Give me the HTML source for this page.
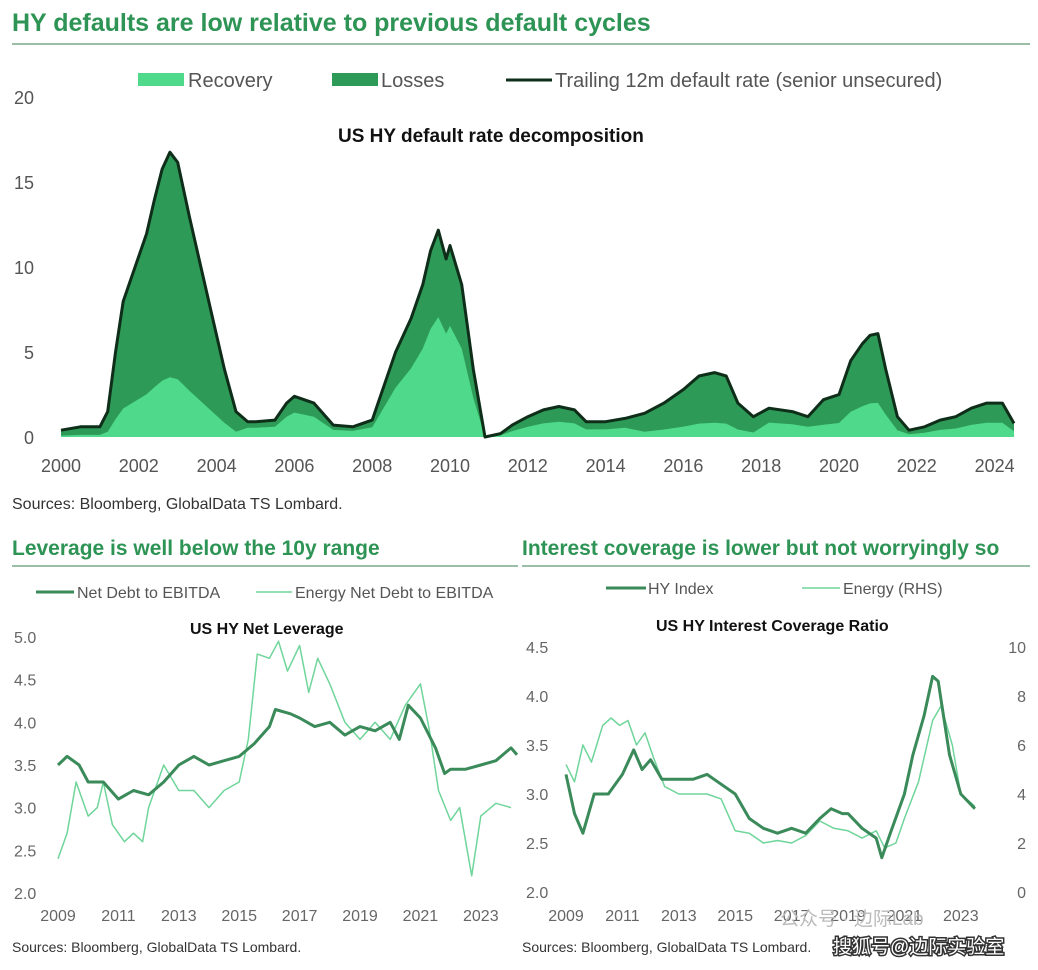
<!DOCTYPE html>
<html><head><meta charset="utf-8"><style>
body{margin:0;background:#fff;width:1038px;height:970px;overflow:hidden;font-family:"Liberation Sans","Noto Sans CJK SC",sans-serif}
svg{position:absolute;left:0;top:0}
</style></head><body>
<svg id="s" width="1038" height="970" xmlns="http://www.w3.org/2000/svg" font-family="Liberation Sans, Noto Sans CJK SC, sans-serif">
<text x="12" y="31" font-size="25" font-weight="bold" fill="#2e9455">HY defaults are low relative to previous default cycles</text>
<line x1="12" y1="44" x2="1030" y2="44" stroke="#7aa88a" stroke-width="1.5"/>
<rect x="138" y="73" width="46" height="13" fill="#4fd98a"/>
<text x="188" y="87" font-size="20" fill="#555">Recovery</text>
<rect x="332" y="73" width="46" height="13" fill="#2e9a57"/>
<text x="381" y="87" font-size="20" fill="#555">Losses</text>
<line x1="506" y1="80" x2="552" y2="80" stroke="#0f2e1a" stroke-width="3"/>
<text x="555" y="87" font-size="20" fill="#555">Trailing 12m default rate (senior unsecured)</text>
<text x="338" y="142" font-size="19" font-weight="bold" fill="#111">US HY default rate decomposition</text>
<g font-size="18" fill="#555">
<text x="14" y="104">20</text><text x="14" y="189">15</text><text x="14" y="274">10</text><text x="24" y="359">5</text><text x="24" y="444">0</text>
</g>
<g id="main"></g>
<g font-size="18" fill="#555" text-anchor="middle" id="mx"></g>
<text x="12" y="509" font-size="16" fill="#333">Sources: Bloomberg, GlobalData TS Lombard.</text>

<text x="12" y="555" font-size="21" font-weight="bold" fill="#2e9455">Leverage is well below the 10y range</text>
<line x1="12" y1="566" x2="518" y2="566" stroke="#7aa88a" stroke-width="1.5"/>
<text x="522" y="555" font-size="21" font-weight="bold" fill="#2e9455">Interest coverage is lower but not worryingly so</text>
<line x1="522" y1="566" x2="1030" y2="566" stroke="#7aa88a" stroke-width="1.5"/>

<line x1="36" y1="592" x2="74" y2="592" stroke="#3a8a5a" stroke-width="3"/>
<text x="77" y="598" font-size="16" fill="#555">Net Debt to EBITDA</text>
<line x1="256" y1="592" x2="292" y2="592" stroke="#6fd59a" stroke-width="1.5"/>
<text x="295" y="598" font-size="16" fill="#555">Energy Net Debt to EBITDA</text>
<text x="190" y="634" font-size="16" font-weight="bold" fill="#111">US HY Net Leverage</text>

<line x1="606" y1="588" x2="646" y2="588" stroke="#3a8a5a" stroke-width="3"/>
<text x="648" y="594" font-size="16" fill="#555">HY Index</text>
<line x1="802" y1="588" x2="840" y2="588" stroke="#6fd59a" stroke-width="1.5"/>
<text x="843" y="594" font-size="16" fill="#555">Energy (RHS)</text>
<text x="656" y="631" font-size="16" font-weight="bold" fill="#111">US HY Interest Coverage Ratio</text>

<g font-size="16" fill="#666" id="lax"></g>
<g id="lc"></g><g id="rc"></g>
<text x="12" y="952" font-size="14" fill="#333">Sources: Bloomberg, GlobalData TS Lombard.</text>
<text x="522" y="952" font-size="14" fill="#333">Sources: Bloomberg, GlobalData TS Lombard.</text>
<text x="780" y="925" font-size="19" fill="#bbb">公众号 · 边际Lab</text>
<text x="833" y="953" font-size="19" fill="#fff" stroke="#333" stroke-width="3" paint-order="stroke">搜狐号@边际实验室</text>
</svg>
<script>
(function(){
var NS="http://www.w3.org/2000/svg";
function el(p,t,a,txt){var e=document.createElementNS(NS,t);for(var k in a)e.setAttribute(k,a[k]);if(txt!=null)e.textContent=txt;document.getElementById(p).appendChild(e);}
var T=[[2000,.4],[2000.5,.6],[2001,.6],[2001.2,1.5],[2001.4,5],[2001.6,8],[2001.9,10],[2002.2,12],[2002.4,14],[2002.6,15.8],[2002.8,16.8],[2003,16.2],[2003.3,13],[2003.6,10],[2003.9,7],[2004.2,4],[2004.5,1.5],[2004.8,.9],[2005,.9],[2005.5,1],[2005.8,2],[2006,2.4],[2006.5,2],[2007,.7],[2007.5,.6],[2008,1],[2008.3,3],[2008.6,5],[2009,7],[2009.3,9],[2009.5,11],[2009.7,12.2],[2009.9,10.5],[2010,11.3],[2010.3,9],[2010.6,4],[2010.9,0],[2011.3,.2],[2011.6,.7],[2012,1.2],[2012.4,1.6],[2012.8,1.8],[2013.2,1.6],[2013.5,.9],[2014,.9],[2014.5,1.1],[2015,1.4],[2015.5,2],[2016,2.8],[2016.4,3.6],[2016.8,3.8],[2017.1,3.6],[2017.4,2],[2017.8,1.2],[2018.2,1.7],[2018.8,1.5],[2019.2,1.2],[2019.6,2.2],[2020,2.5],[2020.3,4.5],[2020.6,5.5],[2020.8,6],[2021,6.1],[2021.2,4],[2021.5,1.2],[2021.8,.4],[2022.2,.6],[2022.6,1],[2023,1.2],[2023.4,1.7],[2023.8,2],[2024.2,2],[2024.5,.8]];
function fr(y){if(y<2004.6)return .21;if(y<2007.8)return .6;if(y<2010.9)return .58;if(y<2014.8)return .5;if(y<2018)return .22;if(y<2019.5)return .5;if(y<2021.8)return .33;return .42;}
function X(y){return 61+(y-2000)*38.9}function Y(v){return 437-v*16.95}
var tp="",rec="";T.forEach(function(p,i){tp+=(i?"L":"M")+X(p[0]).toFixed(1)+","+Y(p[1]).toFixed(1);rec+=(i?"L":"M")+X(p[0]).toFixed(1)+","+Y(p[1]*fr(p[0])).toFixed(1);});
var x0=X(2000),x1=X(2024.5);
el("main","path",{d:tp+"L"+x1+",437L"+x0+",437Z",fill:"#2e9a57"});
el("main","path",{d:rec+"L"+x1+",437L"+x0+",437Z",fill:"#4fd98a"});
el("main","path",{d:tp,fill:"none",stroke:"#0f2e1a","stroke-width":3,"stroke-linejoin":"round"});
for(var y=2000;y<=2024;y+=2)el("mx","text",{x:X(y),y:472},y);
function path(p,pts,fx,fy,col,w){var d="";pts.forEach(function(q,i){d+=(i?"L":"M")+fx(q[0]).toFixed(1)+","+fy(q[1]).toFixed(1)});el(p,"path",{d:d,fill:"none",stroke:col,"stroke-width":w,"stroke-linejoin":"round"});}
var LX=function(y){return 58+(y-2009)*30.2},LY=function(v){return 637+(5-v)*85.3};
var ND=[[2009,3.5],[2009.3,3.6],[2009.7,3.5],[2010,3.3],[2010.5,3.3],[2011,3.1],[2011.5,3.2],[2012,3.15],[2012.5,3.3],[2013,3.5],[2013.5,3.6],[2014,3.5],[2014.5,3.55],[2015,3.6],[2015.5,3.75],[2016,3.95],[2016.2,4.15],[2016.7,4.1],[2017,4.05],[2017.5,3.95],[2018,4.0],[2018.5,3.85],[2019,3.95],[2019.5,3.9],[2020,4.0],[2020.3,3.8],[2020.6,4.2],[2021,4.05],[2021.5,3.7],[2021.8,3.4],[2022,3.45],[2022.5,3.45],[2023,3.5],[2023.5,3.55],[2024,3.7],[2024.2,3.62]];
var EN=[[2009,2.4],[2009.3,2.7],[2009.6,3.3],[2010,2.9],[2010.3,3.0],[2010.5,3.3],[2010.8,2.8],[2011.2,2.6],[2011.5,2.7],[2011.8,2.6],[2012,3.0],[2012.5,3.5],[2013,3.2],[2013.5,3.2],[2014,3.0],[2014.5,3.2],[2015,3.3],[2015.3,3.8],[2015.6,4.8],[2016,4.75],[2016.3,4.95],[2016.6,4.6],[2017,4.9],[2017.3,4.35],[2017.6,4.75],[2018,4.45],[2018.5,4.0],[2019,3.8],[2019.5,4.0],[2020,3.8],[2020.5,4.2],[2021,4.45],[2021.3,3.9],[2021.6,3.2],[2022,2.85],[2022.3,3.0],[2022.7,2.2],[2023,2.9],[2023.5,3.05],[2024,3.0]];
path("lc",EN,LX,LY,"#6fd59a",1.5);path("lc",ND,LX,LY,"#3a8a5a",3);
["5.0","4.5","4.0","3.5","3.0","2.5","2.0"].forEach(function(t){el("lax","text",{x:14,y:LY(+t)+6},t)});
for(var y=2009;y<=2023;y+=2){el("lax","text",{x:LX(y),y:921,"text-anchor":"middle"},y);}
var RX=function(y){return 566+(y-2009)*28.2},RY=function(v){return 892-(v-2)*98},RY2=function(v){return 892-v*24.5};
var HY=[[2009,3.2],[2009.3,2.8],[2009.6,2.6],[2010,3.0],[2010.5,3.0],[2011,3.2],[2011.4,3.45],[2011.7,3.25],[2012,3.35],[2012.4,3.15],[2013,3.15],[2013.5,3.15],[2014,3.2],[2014.5,3.1],[2015,3.0],[2015.5,2.75],[2016,2.65],[2016.5,2.6],[2017,2.65],[2017.5,2.6],[2018,2.75],[2018.4,2.85],[2018.8,2.8],[2019,2.8],[2019.5,2.65],[2020,2.55],[2020.2,2.35],[2020.5,2.6],[2021,3.0],[2021.3,3.4],[2021.7,3.8],[2022,4.2],[2022.2,4.15],[2022.6,3.4],[2023,3.0],[2023.5,2.85]];
var ER=[[2009,5.2],[2009.3,4.5],[2009.6,6.0],[2009.9,5.3],[2010.3,6.8],[2010.6,7.1],[2010.9,6.8],[2011.2,7.0],[2011.5,6.0],[2011.8,6.5],[2012.1,5.5],[2012.5,4.3],[2013,4.0],[2013.5,4.0],[2014,4.0],[2014.5,3.8],[2015,2.5],[2015.5,2.4],[2016,2.0],[2016.5,2.1],[2017,2.0],[2017.5,2.3],[2018,2.9],[2018.5,2.6],[2019,2.5],[2019.5,2.2],[2020,2.5],[2020.3,1.8],[2020.7,2.0],[2021,3.0],[2021.5,4.5],[2022,7.0],[2022.3,7.6],[2022.7,6.0],[2023,4.0],[2023.5,3.5]];
path("rc",ER,RX,RY2,"#6fd59a",1.5);path("rc",HY,RX,RY,"#3a8a5a",3);
["4.5","4.0","3.5","3.0","2.5","2.0"].forEach(function(t){el("lax","text",{x:526,y:RY(+t)+6},t)});
[10,8,6,4,2,0].forEach(function(t){el("lax","text",{x:1026,y:RY2(t)+6,"text-anchor":"end"},t)});
for(var y=2009;y<=2023;y+=2){el("lax","text",{x:RX(y),y:921,"text-anchor":"middle"},y);}
})();
</script>
</body></html>
